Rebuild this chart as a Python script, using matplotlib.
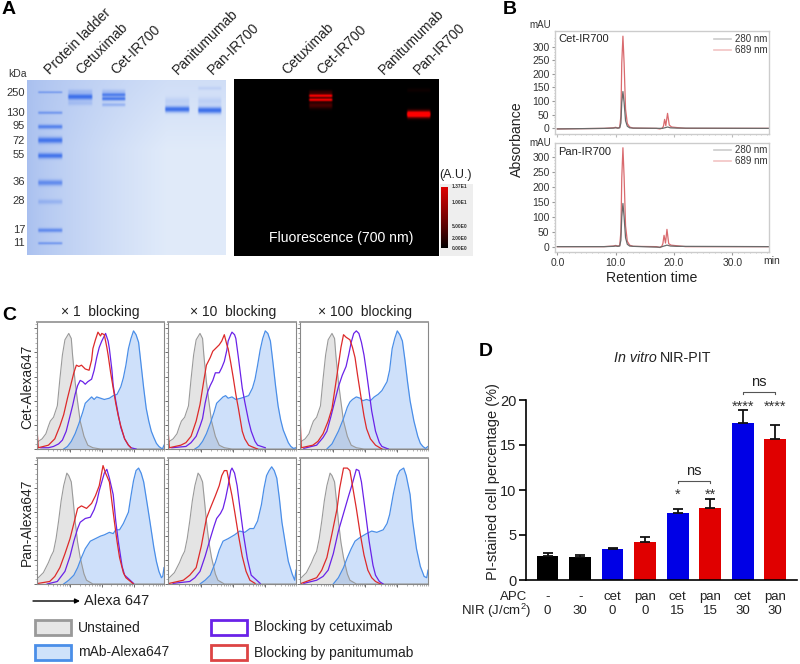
import numpy as np
import matplotlib
matplotlib.use('Agg')
import matplotlib.pyplot as plt
from matplotlib.patches import Rectangle

plt.rcParams['font.family'] = ['Liberation Sans', 'DejaVu Sans']
plt.rcParams['mathtext.default'] = 'regular'
plt.rcParams['mathtext.fontset'] = 'custom'
plt.rcParams['mathtext.rm'] = 'Liberation Sans'

W, H = 800, 664

# ---------- panel A: gel ----------
gel_labels = ['Protein ladder', 'Cetuximab', 'Cet-IR700', 'Panitumumab', 'Pan-IR700']
fluor_labels = ['Cetuximab', 'Cet-IR700', 'Panitumumab', 'Pan-IR700']
kda_labels = ['250', '130', '95', '72', '55', '36', '28', '17', '11']
kda_y = [93, 113, 126, 141, 155, 182, 201, 230, 243]
ladder_y = [92, 112.5, 126.5, 140, 155.5, 182.5, 201.5, 230, 243]
ladder_strength = [0.5, 0.55, 0.8, 0.95, 0.95, 0.7, 0.28, 0.7, 0.55]
ladder_thick = [1.1, 1.4, 2.1, 3.0, 2.7, 2.8, 2.4, 2.0, 1.3]
# lane x0, x1, band y, strength, thickness
gel_lanes = [(67, 93, 96.5, 1.0, 3.0), (67, 93, 103, 0.2, 2.2), (67, 93, 91, 0.2, 2.0),
             (101, 126, 94.5, 0.85, 1.9), (101, 126, 98.5, 0.9, 1.9), (101, 126, 104.5, 0.35, 1.7), (101, 126, 91, 0.2, 2.0),
             (164, 190, 109, 1.0, 3.0), (164, 190, 101, 0.15, 4.0),
             (197, 222, 110, 1.0, 3.2), (197, 222, 88, 0.12, 1.8), (197, 222, 101, 0.15, 4.0)]
fluor_lanes = [(308, 333, 95.5, 1.0, 1.6), (308, 333, 99.5, 1.0, 1.5), (308, 333, 105, 0.28, 3.2), (308, 333, 92, 0.2, 2.0),
               (406, 431, 114, 1.4, 3.2), (406, 431, 90, 0.05, 2.0)]
cbar_labels = ['1.37E1', '1.00E1', '5.00E0', '2.00E0', '0.00E0']
cbar_y = [187, 203, 226, 239, 248]

# ---------- panel B: chromatograms ----------
t_cet_689 = [0, 8, 9.6, 10.0, 10.4, 10.7, 10.9, 11.05, 11.25, 11.45, 11.7, 12.0, 12.4, 13, 17, 17.6, 18.0, 18.2, 18.4, 18.6, 18.9, 19.2, 19.6, 20.5, 22, 36.3]
y_cet_689 = [-2, 0, 2, 4, 1, 4, 45, 240, 338, 240, 70, 18, 5, 1, 0, -2, 1, 8, 33, 10, 55, 12, 5, 3, 0, 0]
t_cet_280 = [0, 8, 9.6, 10.0, 10.4, 10.7, 10.9, 11.05, 11.25, 11.45, 11.7, 12.0, 12.4, 13, 18, 18.4, 18.9, 19.4, 20.5, 36.3]
y_cet_280 = [-2, 0, 1, 2, 1, 2, 20, 95, 135, 95, 28, 8, 2, 1, 0, 2, 5, 2, 1, 0]
t_pan_689 = [0, 8, 9.6, 10.0, 10.4, 10.7, 10.9, 11.05, 11.25, 11.45, 11.7, 12.0, 12.4, 13, 17, 17.6, 17.9, 18.1, 18.3, 18.55, 18.8, 19.1, 19.5, 20.5, 22, 36.3]
y_pan_689 = [0, 0, 2, 4, 2, 4, 50, 230, 332, 235, 70, 18, 5, 1, 0, -3, 1, 10, 38, 12, 58, 10, 5, 3, 0, 0]
t_pan_280 = [0, 8, 9.6, 10.0, 10.4, 10.7, 10.9, 11.05, 11.25, 11.45, 11.7, 12.0, 12.4, 13, 17.6, 18.3, 18.8, 19.4, 20.5, 36.3]
y_pan_280 = [0, 0, 1, 2, 1, 2, 22, 100, 145, 100, 30, 8, 2, 1, -2, 2, 5, 2, 1, 0]

# ---------- panel C: histograms (percent of panel width / height) ----------
gray_top_x = [0, 1, 4, 7, 9, 10.5, 13, 16, 18, 20, 22, 25, 27, 28, 30, 32, 34, 37, 40, 44, 50, 100]
gray_top_y = [5, 6, 8, 12, 18, 22, 25, 34, 55, 74, 86, 91, 87, 74, 53, 37, 22, 10, 3, 1, 0, 0]
gray_bot_x = [0, 1, 3, 5, 7, 9, 11, 13, 15, 17, 19, 21, 23.5, 25, 27, 28.5, 30, 32, 34, 37, 39, 44, 100]
gray_bot_y = [5, 5, 7, 9, 13, 17, 22, 26, 36, 50, 66, 78, 88, 86, 81, 66, 50, 33, 21, 8, 3, 0, 0]

blue_11_x = [21, 24, 27, 30, 33, 36, 38, 41, 43, 45, 47, 50, 53, 57, 60, 63, 66, 68, 70, 72, 74, 76, 78, 80, 82, 84, 86, 88, 90, 92, 94, 96, 98, 99, 100]
blue_11_y = [0, 2, 6, 12, 20, 29, 36, 39, 41, 39, 41, 40, 39, 40, 42, 43, 49, 56, 66, 79, 87, 93, 90, 84, 66, 48, 32, 22, 14, 9, 4.5, 2, 0.5, 0.5, 3]
blue_12_x = [21, 24, 27, 30, 33, 36, 38, 41, 43, 45, 47, 50, 53, 57, 60, 63, 66, 68, 70, 72, 74, 76, 78, 80, 82, 84, 86, 88, 90, 92, 94, 96, 98, 100]
blue_12_y = [0, 2, 6, 12, 20, 29, 36, 39, 41, 42, 40, 41, 39, 40, 41, 42, 48, 55, 66, 78, 87, 93, 91, 85, 68, 50, 34, 23, 15, 10, 5, 2, 0.5, 1]
blue_13_x = [21, 25, 30, 34, 37, 39, 41, 44, 47, 49, 52, 55, 58, 61, 64, 68, 70, 72, 74, 76, 78, 80, 82, 84, 86, 89, 92, 94, 96, 98, 100]
blue_13_y = [0, 4, 14, 24, 33, 37, 39, 41, 40, 38, 39, 38, 41, 43, 46, 53, 62, 79, 87, 93, 90, 85, 70, 53, 38, 22, 10, 4.5, 2, 0.5, 2]
blue_21_x = [21, 25, 29, 32, 35, 38, 42, 46, 50, 53, 57, 60, 62, 65, 68, 72, 74, 76, 78, 80, 82, 84, 87, 89, 92, 94, 96, 98, 99, 100]
blue_21_y = [0, 3, 7, 13, 21, 28, 34, 36, 38, 39, 41, 40, 43, 43, 48, 57, 70, 82, 90, 92, 88, 81, 62, 49, 29, 18, 10, 5, 6, 13]
blue_22_x = [25, 29, 33, 37, 40, 43, 47, 52, 56, 60, 64, 67, 70, 73, 75, 77, 79, 81, 83, 85, 87, 89, 92, 94, 97, 99, 100]
blue_22_y = [0, 3, 7, 17, 27, 34, 36, 39, 42, 41, 44, 44, 50, 63, 76, 86, 90, 93, 90, 84, 68, 49, 30, 18, 8, 3, 11]
blue_23_x = [26, 30, 34, 37, 40, 43, 47, 52, 56, 60, 65, 68, 70, 73, 76, 78, 81, 83, 86, 88, 91, 94, 97, 99, 100]
blue_23_y = [0, 5, 13, 21, 28, 34, 37, 40, 42, 41, 43, 48, 55, 72, 86, 90, 92, 86, 71, 50, 28, 14, 6, 5, 11]

purple_11_x = [3, 9, 13, 17, 20, 23, 25, 28, 30, 32, 34, 36, 38, 40, 43, 45, 47, 49, 51, 53, 54, 56, 57, 59, 60, 62, 64, 66, 69, 72, 74, 78]
purple_11_y = [1, 1, 2, 4, 7, 14, 22, 34, 43, 50, 54, 53, 51, 53, 55, 62, 72, 80, 85, 89, 91, 85, 79, 62, 50, 38, 27, 17, 8, 3, 1, 0]
purple_12_x = [3, 14, 18, 22, 25, 27, 29, 31, 33, 35, 37, 40, 42, 44, 46, 47, 49, 50, 52, 53, 55, 56, 58, 60, 63, 65, 68, 70, 76]
purple_12_y = [1, 2, 5, 10, 18, 24, 36, 45, 50, 54, 60, 60, 64, 69, 78, 85, 90, 92, 90, 87, 72, 64, 48, 37, 22, 14, 6, 3, 1]
purple_13_x = [3, 13, 18, 21, 24, 27, 30, 33, 36, 38, 40, 42, 44, 46, 48, 50, 52, 54, 56, 59, 62, 64, 69]
purple_13_y = [0.5, 3, 9, 14, 25, 37, 49, 58, 65, 74, 84, 91, 93, 91, 84, 74, 60, 45, 30, 14, 5, 2, 0]
purple_21_x = [8, 16, 22, 26, 29, 32, 34, 38, 42, 45, 47, 49, 51, 53, 55, 57, 60, 62, 64, 67, 69, 76]
purple_21_y = [0, 2, 10, 22, 34, 44, 49, 52, 53, 59, 65, 74, 81, 88, 91, 84, 71, 50, 34, 14, 7, 0.5]
purple_22_x = [4, 17, 21, 25, 29, 33, 36, 38, 41, 43, 45, 47, 49, 50, 52, 54, 56, 59, 62, 65, 72]
purple_22_y = [0.5, 2, 5, 10, 22, 36, 46, 52, 56, 60, 68, 78, 90, 92, 88, 78, 62, 39, 20, 7, 0.5]
purple_23_x = [3, 13, 18, 22, 26, 30, 34, 38, 41, 44, 46, 48, 51, 54, 57, 59, 62, 65]
purple_23_y = [0.5, 3, 6, 11, 24, 42, 56, 70, 80, 91, 90, 81, 58, 34, 15, 7, 2, 0]

red_11_x = [0, 1, 5, 9, 14, 18, 21, 24, 26, 29, 31, 33, 35, 38, 41, 43, 44, 46, 48, 50, 51, 53, 55, 56, 58, 60, 62, 64, 66, 69, 72, 74]
red_11_y = [16, 1, 2, 3, 8, 18, 27, 40, 48, 60, 66, 65, 66, 63, 62, 70, 79, 86, 92, 89, 91, 90, 80, 74, 60, 48, 36, 26, 18, 8, 3, 1]
red_12_x = [0, 1, 10, 14, 18, 22, 25, 28, 30, 33, 35, 38, 40, 42, 44, 46, 47, 49, 51, 53, 55, 58, 60, 63, 65, 70]
red_12_y = [16, 1, 3, 5, 10, 22, 35, 54, 66, 72, 77, 80, 82, 85, 90, 82, 79, 68, 56, 43, 32, 14, 8, 3, 2, 0]
red_13_x = [0, 1, 10, 14, 18, 22, 25, 28, 30, 32, 34, 36, 39, 41, 43, 45, 47, 50, 52, 55, 59, 64]
red_13_y = [26, 1, 3, 6, 12, 22, 32, 52, 66, 80, 90, 88, 86, 80, 72, 58, 45, 26, 16, 8, 3, 0]
red_21_x = [1, 10, 14, 18, 22, 26, 29, 32, 35, 39, 43, 46, 49, 52, 54, 57, 59, 61, 63, 65, 68, 70, 76]
red_21_y = [0.5, 2, 6, 13, 24, 36, 48, 60, 62, 60, 64, 70, 78, 94, 88, 81, 65, 49, 34, 21, 9, 5, 0]
red_22_x = [1, 12, 17, 22, 26, 30, 33, 37, 40, 42, 44, 46, 48, 50, 52, 55, 58, 61, 64, 68]
red_22_y = [0.5, 3, 7, 13, 30, 52, 60, 70, 78, 86, 90, 90, 80, 70, 58, 39, 22, 10, 3, 0.5]
red_23_x = [1, 13, 17, 21, 25, 29, 31, 34, 37, 39, 42, 44, 47, 50, 53, 56, 59, 63]
red_23_y = [0.5, 5, 11, 21, 40, 60, 76, 92, 92, 90, 72, 60, 40, 23, 11, 5, 2, 0]

col_titles = ['× 1  blocking', '× 10  blocking', '× 100  blocking']
row_titles = ['Cet-Alexa647', 'Pan-Alexa647']
col_x = [(37, 164), (168, 296), (300, 428)]
row_y = [(322, 449), (458, 584)]

# ---------- panel D: bars ----------
apc = ['-', '-', 'cet', 'pan', 'cet', 'pan', 'cet', 'pan']
nir = [0, 30, 0, 0, 15, 15, 30, 30]
pi_mean = [2.7, 2.6, 3.45, 4.25, 7.4, 8.0, 17.4, 15.7]
pi_err = [0.25, 0.2, 0.15, 0.5, 0.45, 1.0, 1.5, 1.5]
bar_colors = ['#000000', '#000000', '#0000e6', '#e00000', '#0000e6', '#e00000', '#0000e6', '#e00000']
stars = {4: '*', 5: '**', 6: '****', 7: '****'}
star_y = {4: 9.5, 5: 9.5, 6: 19.2, 7: 19.2}


def px_axes(x0, y0, x1, y1, **kw):
    return fig.add_axes([x0 / W, 1 - y1 / H, (x1 - x0) / W, (y1 - y0) / H], **kw)


def band_image(x0, y0, x1, y1, bands):
    xx, yy = np.meshgrid(np.arange(x0, x1, 0.5), np.arange(y0, y1, 0.5))
    out = np.zeros_like(xx, dtype=float)
    for bx0, bx1, by, amp, thick in bands:
        edge = np.clip((xx - bx0) / 2.0, 0, 1) * np.clip((bx1 - xx) / 2.0, 0, 1)
        out = out + amp * edge * np.exp(-((yy - by) / thick) ** 2)
    return xx, yy, np.clip(out, 0, 1)


fig = plt.figure(figsize=(W / 100, H / 100), dpi=100)

# overlay in pixel coordinates, for all loose text
ov = fig.add_axes([0, 0, 1, 1], zorder=10)
ov.set_xlim(0, W)
ov.set_ylim(H, 0)
ov.axis('off')
ov.patch.set_alpha(0)

for s, x, y in [('A', 9, 10), ('B', 510, 9), ('C', 9, 315), ('D', 486, 352)]:
    ov.text(x, y, s, fontsize=14, fontweight='bold', ha='center', va='center')

# --- A: coomassie gel
ax = px_axes(27, 80, 226, 255)
ladder_bands = [(37, 63, y, s, t) for y, s, t in zip(ladder_y, ladder_strength, ladder_thick)]
xx, yy, inten = band_image(27, 80, 226, 255, ladder_bands + gel_lanes)
side = np.clip((xx - 27) / 140, 0, 1) ** 0.7
rows = np.clip((yy - 80) / 70, 0, 1)
light = np.clip(0.15 + 0.6 * side + 0.25 * rows * side, 0, 1)[..., None]
bg = np.array([0.62, 0.72, 0.93]) * (1 - light) + np.array([0.88, 0.92, 0.98]) * light
band_col = np.array([0.24, 0.44, 0.92])
rgb = bg * (1 - inten[..., None]) + band_col * inten[..., None]
ax.imshow(rgb, extent=(27, 226, 255, 80), aspect='auto', interpolation='bilinear')
ax.axis('off')

for name, x in zip(gel_labels, [52, 83, 118, 180, 215]):
    ov.text(x, 77, name, rotation=45, rotation_mode='anchor', ha='left', va='bottom', fontsize=10, color='#222222')
for name, x in zip(fluor_labels, [289, 324, 386, 421]):
    ov.text(x, 77, name, rotation=45, rotation_mode='anchor', ha='left', va='bottom', fontsize=10, color='#222222')
ov.text(27, 74, 'kDa', fontsize=7.5, ha='right', va='center', color='#333333')
for lab, y in zip(kda_labels, kda_y):
    ov.text(25, y, lab, fontsize=8, ha='right', va='center', color='#333333')

# --- A: fluorescence
ax = px_axes(234, 79, 439, 256)
xx, yy, inten = band_image(234, 79, 439, 256, fluor_lanes)
rgb = np.dstack([inten, np.zeros_like(inten), np.zeros_like(inten)])
ax.imshow(rgb, extent=(234, 439, 256, 79), aspect='auto', interpolation='bilinear')
ax.axis('off')
ov.text(341, 238, 'Fluorescence (700 nm)', color='white', fontsize=10.1, ha='center', va='center')

# --- A: colour bar
ov.add_patch(Rectangle((440, 184), 33, 72, facecolor='#eeeeee', edgecolor='none'))
ax = px_axes(441, 187, 448, 248, zorder=11)
ramp = np.linspace(1, 0, 64)[:, None] ** 0.9
ax.imshow(np.dstack([ramp * 0.88, np.zeros_like(ramp), np.zeros_like(ramp)]), aspect='auto')
ax.axis('off')
for lab, y in zip(cbar_labels, cbar_y):
    ov.text(452, y, lab, fontsize=3.5, fontweight='bold', ha='left', va='center', color='#333333')
ov.text(456, 175, '(A.U.)', fontsize=9, ha='center', va='center', color='#222222')

# --- B: chromatograms
b_panels = [
    (31, 134, (-20.6, 357), 'Cet-IR700', t_cet_280, y_cet_280, t_cet_689, y_cet_689, 'top', 25, 0.926, 0.813),
    (143, 252, (-18, 348), 'Pan-IR700', t_pan_280, y_pan_280, t_pan_689, y_pan_689, 'bottom', 143, 0.939, 0.835),
]
for y0, y1, ylim, name, t1, v1, t2, v2, pos, mau_y, leg1, leg2 in b_panels:
    ax = px_axes(555, y0, 769, y1)
    ax.plot(t2, v2, color='#d96a6e', lw=0.9)
    ax.plot(t1, v1, color='#6a6a6a', lw=0.9)
    ax.set_xlim(-0.4, 36.3)
    ax.set_ylim(*ylim)
    for sp in ax.spines.values():
        sp.set_color('#cccccc')
        sp.set_linewidth(1.0)
    ax.set_yticks([0, 50, 100, 150, 200, 250, 300])
    ax.set_yticks(np.arange(0, 340, 10), minor=True)
    ax.set_xticks([0, 10, 20, 30])
    ax.set_xticks(np.arange(0, 37, 1), minor=True)
    ax.tick_params(axis='y', labelsize=7.5, length=2, color='#999999', pad=2, labelcolor='#333333')
    ax.tick_params(axis='both', which='minor', length=1, color='#bbbbbb')
    if pos == 'bottom':
        ax.set_xticklabels(['0.0', '10.0', '20.0', '30.0'])
        ax.tick_params(axis='x', labelsize=7.5, length=2, color='#999999', labelcolor='#333333', pad=2)
    else:
        ax.tick_params(axis='x', labelbottom=False, length=2, color='#bbbbbb')
    ax.plot([0.742, 0.824], [leg1, leg1], transform=ax.transAxes, color='#cccccc', lw=1.2)
    ax.plot([0.742, 0.824], [leg2, leg2], transform=ax.transAxes, color='#f2c4c4', lw=1.2)
    ax.text(0.843, leg1, '280 nm', transform=ax.transAxes, ha='left', va='center', fontsize=7, color='#333333')
    ax.text(0.843, leg2, '689 nm', transform=ax.transAxes, ha='left', va='center', fontsize=7, color='#333333')
    ax.text(0.015, 0.92, name, transform=ax.transAxes, ha='left', va='center', fontsize=8, color='#222222')
    ov.text(551, mau_y, 'mAU', fontsize=7, ha='right', va='center', color='#333333')
ov.text(772, 261, 'min', fontsize=7.5, ha='center', va='center', color='#333333')
ov.text(517, 139, 'Absorbance', fontsize=10.2, rotation=90, ha='center', va='center', color='#222222')
ov.text(652, 278, 'Retention time', fontsize=10.2, ha='center', va='center', color='#222222')

# --- C: histograms
gray_sets = [(gray_top_x, gray_top_y), (gray_bot_x, gray_bot_y)]
blue_sets = [[(blue_11_x, blue_11_y), (blue_12_x, blue_12_y), (blue_13_x, blue_13_y)],
             [(blue_21_x, blue_21_y), (blue_22_x, blue_22_y), (blue_23_x, blue_23_y)]]
purple_sets = [[(purple_11_x, purple_11_y), (purple_12_x, purple_12_y), (purple_13_x, purple_13_y)],
               [(purple_21_x, purple_21_y), (purple_22_x, purple_22_y), (purple_23_x, purple_23_y)]]
red_sets = [[(red_11_x, red_11_y), (red_12_x, red_12_y), (red_13_x, red_13_y)],
            [(red_21_x, red_21_y), (red_22_x, red_22_y), (red_23_x, red_23_y)]]
decades = [26, 51, 76]
minor_x = [b + 25 * np.log10(m) for b in [1, 26, 51, 76] for m in range(2, 10) if b + 25 * np.log10(m) < 100]

for r, (y0, y1) in enumerate(row_y):
    for c, (x0, x1) in enumerate(col_x):
        ax = px_axes(x0, y0, x1, y1)
        gx, gy = gray_sets[r]
        bx, by = blue_sets[r][c]
        ax.fill_between(gx, gy, color='#e4e4e4', lw=0)
        ax.plot(gx, gy, color='#9a9a9a', lw=0.8)
        ax.fill_between(bx, by, color='#5d9bf0', alpha=0.3, lw=0)
        ax.plot(bx, by, color='#4a8ee8', lw=0.9)
        ax.plot(*purple_sets[r][c], color='#6a22e8', lw=0.9)
        ax.plot(*red_sets[r][c], color='#dd2a2a', lw=0.9)
        ax.set_xlim(0, 100)
        ax.set_ylim(0, 100)
        for sp in ax.spines.values():
            sp.set_color('#888888')
            sp.set_linewidth(0.8)
        ax.spines['top'].set_linewidth(1.3)
        ax.spines['top'].set_color('#999999')
        ax.set_xticks(decades)
        ax.set_xticks(minor_x, minor=True)
        ax.set_yticks([0, 19, 38, 57, 76, 95])
        ax.set_yticks(np.arange(0, 100, 3.8), minor=True)
        ax.tick_params(axis='both', which='major', length=2.5, width=0.6, color='#555555', direction='out', labelbottom=False, labelleft=False)
        ax.tick_params(axis='both', which='minor', length=1.2, width=0.4, color='#777777', direction='out')

for t, x in zip(col_titles, [100, 233, 365]):
    ov.text(x, 312, t, fontsize=10, ha='center', va='center', color='#222222')
for t, y in zip(row_titles, [387, 522]):
    ov.text(27, y, t, fontsize=10, rotation=90, ha='center', va='center', color='#222222')
ov.annotate('', xy=(80, 601), xytext=(33, 601), arrowprops=dict(arrowstyle='-|>', color='black', lw=1, mutation_scale=7, shrinkA=0, shrinkB=0))
ov.text(84, 601, 'Alexa 647', fontsize=10.5, ha='left', va='center', color='#222222')

legend_items = [(35, 620, '#e6e6e6', '#999999', 'Unstained'),
                (35, 645, '#cfe2fa', '#4a8ee8', 'mAb-Alexa647'),
                (211, 620, 'white', '#6a22e8', 'Blocking by cetuximab'),
                (211, 645, 'white', '#dd4444', 'Blocking by panitumumab')]
for x, y, fc, ec, lab in legend_items:
    ov.add_patch(Rectangle((x, y), 36, 14.5, facecolor=fc, edgecolor=ec, lw=2))
    ov.text(x + 43, y + 7.5, lab, fontsize=10, ha='left', va='center', color='#222222')

# --- D: bars
ax = px_axes(526, 400, 797, 580)
pos = np.arange(len(pi_mean))
ax.bar(pos, pi_mean, width=0.667, color=bar_colors)
for i in pos:
    ax.errorbar(i, pi_mean[i], yerr=[[0], [pi_err[i]]], color='#111111', ecolor='#111111', capsize=3.7, lw=1.3, capthick=1.3)
ax.set_xlim(-0.665, 7.67)
ax.set_ylim(0, 20)
ax.spines['top'].set_visible(False)
ax.spines['right'].set_visible(False)
ax.spines['left'].set_linewidth(1.2)
ax.spines['bottom'].set_linewidth(1.2)
ax.set_yticks([0, 5, 10, 15, 20])
ax.set_xticks(pos)
ax.set_xticklabels([f'{a}\n{n}' for a, n in zip(apc, nir)], linespacing=1.2)
ax.tick_params(axis='y', labelsize=10.5, length=5, width=1.2, pad=2, labelcolor='#222222')
ax.tick_params(axis='x', labelsize=9.5, length=0, pad=8, labelcolor='#222222')
for i, s in stars.items():
    ax.text(i, star_y[i], s, ha='center', va='center', fontsize=10.5, color='#333333', clip_on=False)
for x0, x1, y in [(4, 5, 11.0), (6, 7, 20.9)]:
    ax.plot([x0, x0, x1, x1], [y - 0.2, y, y, y - 0.2], color='#555555', lw=0.8, clip_on=False)
    ax.text((x0 + x1) / 2, y + 0.35, 'ns', ha='center', va='bottom', fontsize=10.5, color='#222222', clip_on=False)

ov.text(527, 600, 'APC', fontsize=9.5, ha='right', va='baseline', color='#222222')
ov.text(531, 615, 'NIR (J/cm$^2$)', fontsize=9.5, ha='right', va='baseline', color='#222222')
ov.text(493, 482, 'PI-stained cell percentage (%)', fontsize=10.5, rotation=90, ha='center', va='center', color='#222222')
ov.text(657, 358, 'In vitro', fontsize=10.3, style='italic', ha='right', va='center', color='#222222')
ov.text(659.5, 358, 'NIR-PIT', fontsize=10.3, ha='left', va='center', color='#222222')

fig.savefig('out.png', dpi=100)
